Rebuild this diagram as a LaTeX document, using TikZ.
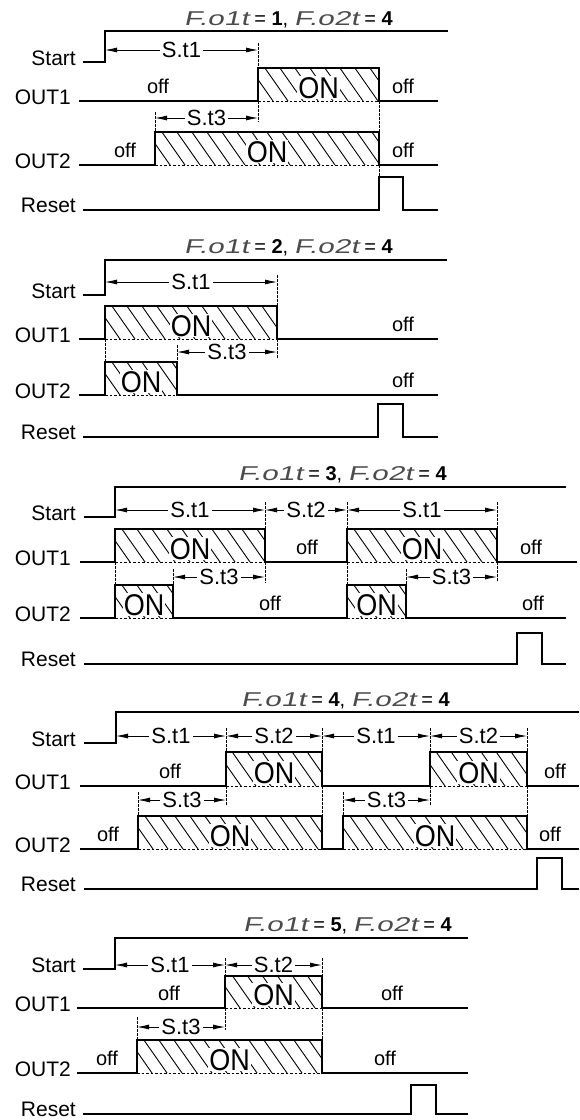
\documentclass[tikz,border=0pt]{standalone}
\usepackage{fontspec}
\setmainfont{Liberation Sans}
\newfontfamily\segf[FakeSlant=0.22,FakeStretch=1.5]{Liberation Sans}
\newfontfamily\onf[FakeStretch=0.9]{Liberation Sans}
\usetikzlibrary{arrows.meta}
\tikzset{
  sigl/.style={line width=2pt, line join=miter},
  dashv/.style={line width=0.7pt, dash pattern=on 2.5pt off 1.5pt},
  dashb/.style={line width=0.7pt, dash pattern=on 2.5pt off 2pt},
  hatchln/.style={line width=0.9pt},
  dimarr/.style={line width=0.8pt, {Latex[length=12pt,width=5pt]}-{Latex[length=12pt,width=5pt]}},
  dimtxt/.style={fill=white, inner xsep=2pt, inner ysep=1pt, font=\fontsize{22}{24}\selectfont},
  siglab/.style={anchor=base east, inner sep=0pt, font=\fontsize{21}{24}\selectfont},
  offtxt/.style={anchor=base, inner sep=0pt, font=\fontsize{20}{24}\selectfont},
  ontxt/.style={anchor=base, fill=white, inner sep=1pt, font=\onf\fontsize{30}{32}\selectfont},
  ttl/.style={anchor=base east, inner sep=0pt, font=\fontsize{20}{22}\selectfont},
}
\newcommand\ttltext[1]{{\color{black!70}\segf F.o1t} = \textbf{#1}, {\color{black!70}\segf F.o2t} = \textbf{4}}
\newcommand\onbox[5]{%
  \pgfmathsetmacro\obh{#5-#4}%
  \pgfmathsetmacro\oba{#2-0.7*\obh}%
  \pgfmathsetmacro\obb{\oba+15}%
  \begin{scope}
    \clip (#2,#4) rectangle (#3,#5);
    \foreach \s in {\oba,\obb,...,#3} \draw[hatchln] (\s,#4) -- ++(0.7*\obh,\obh);
  \end{scope}
  \node[ontxt] (#1) at ({(#2+#3)/2},#5-3) {ON};
  \draw[dashb] (#2,#5) -- (#3,#5);
}
\begin{document}
\begin{tikzpicture}[x=1pt,y=-1pt]
\useasboundingbox (0,0) rectangle (579,1120);

% ================= Panel 1 =================
\node[ttl] (t1) at (393,25) {\ttltext{1}};
\onbox{on11}{258}{379}{68}{101}
\onbox{on12}{155}{379}{132}{165}
\draw[dashv] (258,43) -- (258,68);
\draw[dashv] (258,101) -- (258,122);
\draw[dashv] (155,112) -- (155,132);
\draw[dashv] (379,101) -- (379,177);
\draw[dimarr] (105,50) -- node[dimtxt] (d11) {S.t1} (258,50);
\draw[dimarr] (155,118) -- node[dimtxt] (d12) {S.t3} (258,118);
\draw[sigl] (83,62) -- (105,62) -- (105,31) -- (448,31);
\draw[sigl] (79,101) -- (258,101) -- (258,68) -- (379,68) -- (379,101) -- (438,101);
\draw[sigl] (79,165) -- (155,165) -- (155,132) -- (379,132) -- (379,165) -- (438,165);
\draw[sigl] (83,210) -- (379,210) -- (379,177) -- (403,177) -- (403,210) -- (438,210);
\node[siglab] (s1) at (76,65) {Start};
\node[siglab] (o11) at (71,104) {OUT1};
\node[siglab] (o12) at (71,168) {OUT2};
\node[siglab] (r1) at (76,212) {Reset};
\node[offtxt] (f11) at (158,93) {off};
\node[offtxt] (f12) at (403,93) {off};
\node[offtxt] (f13) at (125,157) {off};
\node[offtxt] (f14) at (403,157) {off};

% ================= Panel 2 =================
\node[ttl] (t2) at (393,253) {\ttltext{2}};
\onbox{on21}{105}{277}{306}{339}
\onbox{on22}{105}{177}{362}{395}
\draw[dashv] (105,339) -- (105,362);
\draw[dashv] (277,275) -- (277,306);
\draw[dashv] (277,339) -- (277,358);
\draw[dashv] (177,345) -- (177,362);
\draw[dimarr] (105,282) -- node[dimtxt] (d21) {S.t1} (277,282);
\draw[dimarr] (177,352) -- node[dimtxt] (d22) {S.t3} (277,352);
\draw[sigl] (83,295) -- (105,295) -- (105,260) -- (447,260);
\draw[sigl] (79,339) -- (105,339) -- (105,306) -- (277,306) -- (277,339) -- (438,339);
\draw[sigl] (79,395) -- (105,395) -- (105,362) -- (177,362) -- (177,395) -- (438,395);
\draw[sigl] (83,437) -- (378,437) -- (378,404) -- (403,404) -- (403,437) -- (438,437);
\node[siglab] (s2) at (76,298) {Start};
\node[siglab] (o21) at (71,342) {OUT1};
\node[siglab] (o22) at (71,398) {OUT2};
\node[siglab] (r2) at (76,439) {Reset};
\node[offtxt] (f21) at (403,331) {off};
\node[offtxt] (f22) at (403,387) {off};

% ================= Panel 3 =================
\node[ttl] (t3) at (447,480) {\ttltext{3}};
\onbox{on31}{115}{265}{529}{562}
\onbox{on32}{347}{497}{529}{562}
\onbox{on33}{115}{173}{585}{618}
\onbox{on34}{347}{406}{585}{618}
\draw[dashv] (115,562) -- (115,585);
\draw[dashv] (265,502) -- (265,529);
\draw[dashv] (265,562) -- (265,583);
\draw[dashv] (347,502) -- (347,529);
\draw[dashv] (347,562) -- (347,585);
\draw[dashv] (497,502) -- (497,529);
\draw[dashv] (497,562) -- (497,582);
\draw[dashv] (173,569) -- (173,585);
\draw[dashv] (406,569) -- (406,585);
\draw[dimarr] (115,510) -- node[dimtxt] (d31) {S.t1} (265,510);
\draw[dimarr] (265,510) -- node[dimtxt] (d32) {S.t2} (347,510);
\draw[dimarr] (347,510) -- node[dimtxt] (d33) {S.t1} (497,510);
\draw[dimarr] (173,577) -- node[dimtxt] (d34) {S.t3} (265,577);
\draw[dimarr] (406,577) -- node[dimtxt] (d35) {S.t3} (497,577);
\draw[sigl] (84,517) -- (115,517) -- (115,487) -- (566,487);
\draw[sigl] (80,562) -- (115,562) -- (115,529) -- (265,529) -- (265,562) -- (347,562) -- (347,529) -- (497,529) -- (497,562) -- (577,562);
\draw[sigl] (80,618) -- (115,618) -- (115,585) -- (173,585) -- (173,618) -- (347,618) -- (347,585) -- (406,585) -- (406,618) -- (566,618);
\draw[sigl] (84,664) -- (517,664) -- (517,633) -- (542,633) -- (542,664) -- (566,664);
\node[siglab] (s3) at (76,520) {Start};
\node[siglab] (o31) at (71,565) {OUT1};
\node[siglab] (o32) at (71,621) {OUT2};
\node[siglab] (r3) at (76,666) {Reset};
\node[offtxt] (f31) at (307,554) {off};
\node[offtxt] (f32) at (531,554) {off};
\node[offtxt] (f33) at (270,610) {off};
\node[offtxt] (f34) at (533,610) {off};

% ================= Panel 4 =================
\node[ttl] (t4) at (450,706) {\ttltext{4}};
\onbox{on41}{226}{322}{752}{786}
\onbox{on42}{430}{527}{752}{786}
\onbox{on43}{138}{322}{816}{849}
\onbox{on44}{343}{527}{816}{849}
\draw[dashv] (226,728) -- (226,752);
\draw[dashv] (226,786) -- (226,805);
\draw[dashv] (322,728) -- (322,752);
\draw[dashv] (322,786) -- (322,816);
\draw[dashv] (430,728) -- (430,752);
\draw[dashv] (430,786) -- (430,805);
\draw[dashv] (527,728) -- (527,752);
\draw[dashv] (527,786) -- (527,816);
\draw[dashv] (138,792) -- (138,816);
\draw[dashv] (343,792) -- (343,816);
\draw[dimarr] (116,736) -- node[dimtxt] (d41) {S.t1} (226,736);
\draw[dimarr] (226,736) -- node[dimtxt] (d42) {S.t2} (322,736);
\draw[dimarr] (322,736) -- node[dimtxt] (d43) {S.t1} (430,736);
\draw[dimarr] (430,736) -- node[dimtxt] (d44) {S.t2} (527,736);
\draw[dimarr] (138,800) -- node[dimtxt] (d45) {S.t3} (226,800);
\draw[dimarr] (343,800) -- node[dimtxt] (d46) {S.t3} (430,800);
\draw[sigl] (84,743) -- (116,743) -- (116,712) -- (579,712);
\draw[sigl] (80,786) -- (226,786) -- (226,752) -- (322,752) -- (322,786) -- (430,786) -- (430,752) -- (527,752) -- (527,786) -- (579,786);
\draw[sigl] (80,849) -- (138,849) -- (138,816) -- (322,816) -- (322,849) -- (343,849) -- (343,816) -- (527,816) -- (527,849) -- (579,849);
\draw[sigl] (84,889) -- (537,889) -- (537,858) -- (562,858) -- (562,889) -- (579,889);
\node[siglab] (s4) at (76,746) {Start};
\node[siglab] (o41) at (71,789) {OUT1};
\node[siglab] (o42) at (71,852) {OUT2};
\node[siglab] (r4) at (76,891) {Reset};
\node[offtxt] (f41) at (170,778) {off};
\node[offtxt] (f42) at (555,778) {off};
\node[offtxt] (f43) at (108,841) {off};
\node[offtxt] (f44) at (550,841) {off};

% ================= Panel 5 =================
\node[ttl] (t5) at (452,931) {\ttltext{5}};
\onbox{on51}{225}{322}{976}{1008}
\onbox{on52}{137}{322}{1040}{1073}
\draw[dashv] (225,958) -- (225,976);
\draw[dashv] (225,1008) -- (225,1030);
\draw[dashv] (322,958) -- (322,976);
\draw[dashv] (322,1008) -- (322,1040);
\draw[dashv] (137,1017) -- (137,1040);
\draw[dimarr] (115,965) -- node[dimtxt] (d51) {S.t1} (225,965);
\draw[dimarr] (225,965) -- node[dimtxt] (d52) {S.t2} (322,965);
\draw[dimarr] (137,1027) -- node[dimtxt] (d53) {S.t3} (225,1027);
\draw[sigl] (83,969) -- (115,969) -- (115,938) -- (468,938);
\draw[sigl] (77,1008) -- (225,1008) -- (225,976) -- (322,976) -- (322,1008) -- (468,1008);
\draw[sigl] (77,1073) -- (137,1073) -- (137,1040) -- (322,1040) -- (322,1073) -- (468,1073);
\draw[sigl] (83,1114) -- (411,1114) -- (411,1085) -- (436,1085) -- (436,1114) -- (468,1114);
\node[siglab] (s5) at (76,972) {Start};
\node[siglab] (o51) at (71,1011) {OUT1};
\node[siglab] (o52) at (71,1076) {OUT2};
\node[siglab] (r5) at (76,1116) {Reset};
\node[offtxt] (f51) at (169,1000) {off};
\node[offtxt] (f52) at (392,1000) {off};
\node[offtxt] (f53) at (107,1065) {off};
\node[offtxt] (f54) at (385,1065) {off};
\end{tikzpicture}
\end{document}
